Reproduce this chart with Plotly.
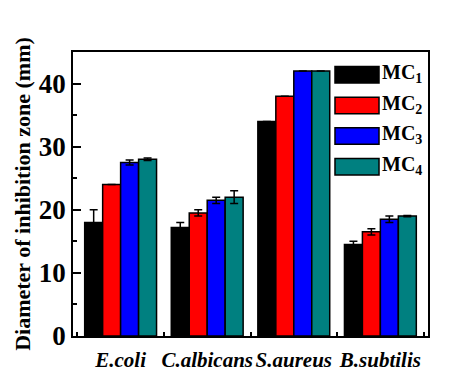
import plotly.graph_objects as go

categories = ["E.coli", "C.albicans", "S.aureus", "B.subtilis"]
series_names = ["MC<sub>1</sub>", "MC<sub>2</sub>", "MC<sub>3</sub>", "MC<sub>4</sub>"]
colors = ["#000000", "#ff0000", "#0000ff", "#008080"]

mc1 = [18.0, 17.2, 34.0, 14.5]
mc2 = [24.0, 19.5, 38.0, 16.5]
mc3 = [27.5, 21.5, 42.0, 18.5]
mc4 = [28.0, 22.0, 42.0, 19.0]
values = [mc1, mc2, mc3, mc4]

err1 = [2.0, 0.8, 0.0, 0.5]
err2 = [0.0, 0.5, 0.0, 0.5]
err3 = [0.4, 0.5, 0.0, 0.5]
err4 = [0.2, 1.0, 0.0, 0.1]
errors = [err1, err2, err3, err4]

y_ticks = [0, 10, 20, 30, 40]

FONT = "Liberation Serif"

fig = go.Figure()
for name, vals, errs, col in zip(series_names, values, errors, colors):
    fig.add_trace(go.Bar(
        x=categories, y=vals, name=name,
        marker=dict(color=col, line=dict(color="black", width=1.5)),
        error_y=dict(type="data", array=errs, visible=True, color="black",
                     thickness=1.5, width=4),
        showlegend=False,
    ))

# manual legend
leg_top = 0.92
leg_step = 0.108
for i, (name, col) in enumerate(zip(series_names, colors)):
    yc = leg_top - i * leg_step
    fig.add_shape(type="rect", xref="paper", yref="paper",
                  x0=0.738, x1=0.862, y0=yc - 0.029, y1=yc + 0.029,
                  fillcolor=col, line=dict(color="black", width=1.5))
    fig.add_annotation(xref="paper", yref="paper", x=0.866, y=yc + 0.004,
                       xanchor="left", yanchor="middle", showarrow=False,
                       text="<b>" + name + "</b>",
                       font=dict(family=FONT, size=20, color="black"))

fig.update_layout(
    width=451, height=372,
    margin=dict(l=73, r=23, t=52, b=36),
    paper_bgcolor="white", plot_bgcolor="white",
    barmode="group", bargap=0.17, bargroupgap=0,
    font=dict(family=FONT, color="black"),
)
fig.update_xaxes(
    type="category", range=[-0.55, 3.55], automargin=False,
    tickson="boundaries", ticks="inside", ticklen=4, tickwidth=1.5,
    tickcolor="black", tickangle=0,
    showline=True, linecolor="black", linewidth=1.5, mirror=True,
    showgrid=False,
    tickvals=categories,
    ticktext=["<b><i>" + c + "</i></b>" for c in categories],
    tickfont=dict(family=FONT, size=21, color="black"),
    ticklabelstandoff=4,
)
fig.update_yaxes(
    range=[0, 45], tickvals=y_ticks, automargin=False,
    ticktext=["<b>%d</b>" % v for v in y_ticks],
    ticks="inside", ticklen=8, tickwidth=1.5, tickcolor="black",
    minor=dict(ticks="inside", ticklen=4, dtick=5, tickcolor="black", tickwidth=1.5),
    showline=True, linecolor="black", linewidth=1.5, mirror=True,
    showgrid=False, zeroline=False,
    tickfont=dict(family=FONT, size=27, color="black"),
    title=dict(text="<b>Diameter of inhibition zone (mm)</b>",
               font=dict(family=FONT, size=22, color="black"), standoff=2),
)

fig.write_html("out.html")
